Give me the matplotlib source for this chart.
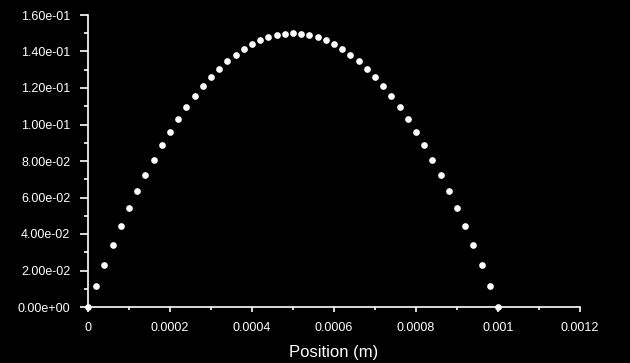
import matplotlib
matplotlib.use("Agg")
import matplotlib.pyplot as plt
from matplotlib.ticker import MultipleLocator, FuncFormatter

plt.rcParams['font.family'] = ['Liberation Sans', 'DejaVu Sans']

position = [i * 0.00002 for i in range(51)]
half = [0.0, 0.01176, 0.02304, 0.03384, 0.04416, 0.054, 0.06336, 0.07224,
        0.08064, 0.08856, 0.096, 0.10296, 0.10944, 0.11544, 0.12096, 0.126,
        0.13056, 0.13464, 0.13824, 0.14136, 0.144, 0.14616, 0.14784, 0.14904,
        0.14976, 0.15]
velocity = half + half[-2::-1]

x_ticks = [0, 0.0002, 0.0004, 0.0006, 0.0008, 0.001, 0.0012]
x_ticklabels = ["0", "0.0002", "0.0004", "0.0006", "0.0008", "0.001", "0.0012"]
y_ticks = [0, 0.02, 0.04, 0.06, 0.08, 0.10, 0.12, 0.14, 0.16]
x_label = "Position (m)"

fig = plt.figure(figsize=(6.3, 3.63), dpi=100, facecolor='black')
ax = fig.add_axes([88/630, 1-307/363, (580-88)/630, (307-15)/363])
ax.set_facecolor('black')

ax.plot(position, velocity, linestyle='none', marker='o', ms=3.8,
        color='white', mec='white', clip_on=False, zorder=5)

ax.set_xlim(0, 0.0012)
ax.set_ylim(0, 0.16)
ax.set_xticks(x_ticks)
ax.set_xticklabels(x_ticklabels)
ax.set_yticks(y_ticks)
ax.yaxis.set_major_formatter(FuncFormatter(lambda v, p: f"{v:.2e}"))
ax.xaxis.set_minor_locator(MultipleLocator(0.0001))
ax.yaxis.set_minor_locator(MultipleLocator(0.01))

for s in ['top', 'right']:
    ax.spines[s].set_visible(False)
for s in ['left', 'bottom']:
    ax.spines[s].set_color('white')
    ax.spines[s].set_linewidth(1.2)

ax.tick_params(axis='y', which='major', length=5.8, width=1.2, colors='white',
               labelsize=9, pad=7)
ax.tick_params(axis='y', which='minor', length=2.9, width=1.2, colors='white')
ax.tick_params(axis='x', which='major', length=3.5, width=1.2, colors='white',
               labelsize=9, pad=7)
ax.tick_params(axis='x', which='minor', length=2.2, width=1.2, colors='white')

ax.set_xlabel(x_label, color='white', fontsize=12, labelpad=8)

fig.savefig("out.png", dpi=100, facecolor='black')
